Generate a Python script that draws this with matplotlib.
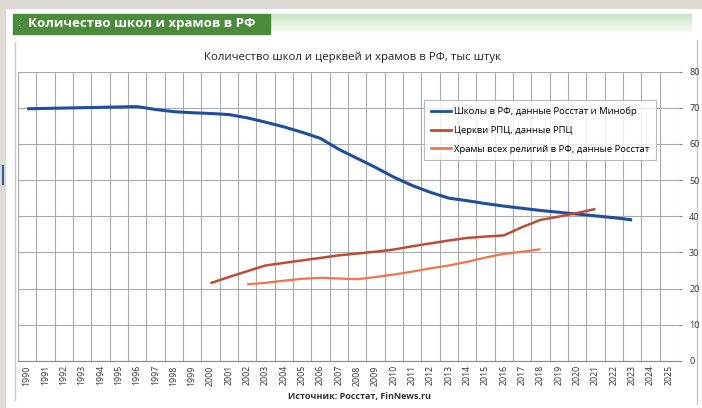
import numpy as np
import matplotlib.pyplot as plt
from matplotlib.patches import Rectangle
from matplotlib.lines import Line2D

plt.rcParams['font.family'] = ['Open Sans', 'DejaVu Sans']

# Данные
years = list(range(1990, 2026))
school_years = list(range(1990, 2024))
schools = [69.7, 69.8, 69.9, 70.0, 70.1, 70.2, 70.3, 69.5, 68.9, 68.6,
           68.4, 68.1, 67.2, 66.0, 64.7, 63.2, 61.5, 58.5, 56.0, 53.5,
           50.8, 48.5, 46.6, 45.0, 44.3, 43.5, 42.8, 42.2, 41.6, 41.1,
           40.6, 40.1, 39.6, 39.0]
church_years = list(range(2000, 2022))
churches = [21.5, 23.2, 24.8, 26.4, 27.1, 27.8, 28.5, 29.2, 29.7, 30.2,
            30.8, 31.7, 32.5, 33.3, 34.0, 34.4, 34.7, 37.0, 39.0, 39.9,
            40.9, 42.0]
temple_years = list(range(2002, 2019))
temples = [21.2, 21.6, 22.2, 22.7, 23.0, 22.8, 22.6, 23.2, 23.9, 24.7,
           25.6, 26.4, 27.4, 28.6, 29.6, 30.2, 30.9]
yticks = [0, 10, 20, 30, 40, 50, 60, 70, 80]

labels = ['Школы в РФ, данные Росстат и Минобр',
          'Церкви РПЦ, данные РПЦ',
          'Храмы всех религий в РФ, данные Росстат']
colors = ['#1f4e9e', '#bf4b35', '#f2744a']

W, H = 702, 408
fig = plt.figure(figsize=(W / 100, H / 100), dpi=100)

# Рамка и шапка
bg = fig.add_axes([0, 0, 1, 1], zorder=-10)
bg.set_xlim(0, W)
bg.set_ylim(H, 0)
bg.axis('off')
bg.add_patch(Rectangle((0, 0), W, 8, color='#dedad4'))
bg.add_patch(Rectangle((0, 0), 5, H, color='#dedad4'))
grad = np.linspace(0, 1, 50).reshape(-1, 1)
bg.imshow(grad, extent=(270, 692, 34, 14), cmap=plt.matplotlib.colors.LinearSegmentedColormap.from_list(
    'g', ['#c9e4c1', '#ffffff']), aspect='auto', zorder=1)
bg.add_patch(Rectangle((13, 14), 257, 20, color='#4b8b3b', zorder=2))
bg.text(17, 24, ':', color='white', fontsize=8, va='center', zorder=3)
bg.text(28, 24, 'Количество школ и храмов в РФ', color='white', fontsize=9.5,
        fontweight='bold', va='center', zorder=3)
bg.plot([15, 15], [42, 400], color='#c8c8c8', lw=1)
bg.plot([697, 697], [40, 404], color='#c8c8c8', lw=1)
bg.plot([3, 3], [166, 184], color='#2a5ea8', lw=1.5)
bg.text(352, 57, 'Количество школ и церквей и храмов в РФ, тыс штук',
        fontsize=8.2, ha='center', va='center', color='#222222')
bg.text(360, 397, 'Источник: Росстат, FinNews.ru', fontsize=6.5,
        fontweight='bold', ha='center', va='center', color='#333333')

# График
ax = fig.add_axes([18 / W, 1 - 361 / H, 660 / W, 289.5 / H])
x = np.arange(len(years))
ax.plot([years.index(y) for y in school_years], schools, color=colors[0], lw=2.2, solid_capstyle='butt')
ax.plot([years.index(y) for y in church_years], churches, color=colors[1], lw=1.8, solid_capstyle='butt')
ax.plot([years.index(y) for y in temple_years], temples, color=colors[2], lw=1.6, solid_capstyle='butt')

ax.set_xlim(-0.5, len(years) - 0.5)
ax.set_ylim(0, 80)
ax.set_xticks(x)
ax.set_xticklabels([str(y) for y in years], rotation=90, fontsize=6.3, color='#333333')
ax.set_xticks(np.arange(-0.5, len(years)), minor=True)
ax.tick_params(axis='x', which='both', length=0, pad=3)
ax.grid(True, which='minor', axis='x', color='#a8aab2', lw=0.8)
ax.set_yticks(yticks)
ax.yaxis.tick_right()
ax.tick_params(axis='y', length=3, color='#888888', labelsize=6.5, pad=5, labelcolor='#333333')
ax.grid(True, which='major', axis='y', color='#a8aab2', lw=0.8)
for s in ['top', 'left', 'right']:
    ax.spines[s].set_visible(False)
ax.spines['bottom'].set_color('#888888')

handles = [Line2D([], [], color=c, lw=2) for c in colors]
leg = fig.legend(handles, labels, loc='upper left', bbox_to_anchor=(424 / W, 1 - 100 / H),
                 fontsize=6.8, frameon=True, fancybox=False, edgecolor='#aaaaaa',
                 handlelength=2.2, handletextpad=0.3, labelspacing=1.05,
                 borderpad=0.7, borderaxespad=0)
leg.get_frame().set_linewidth(0.8)

fig.savefig('out.png', dpi=100)
